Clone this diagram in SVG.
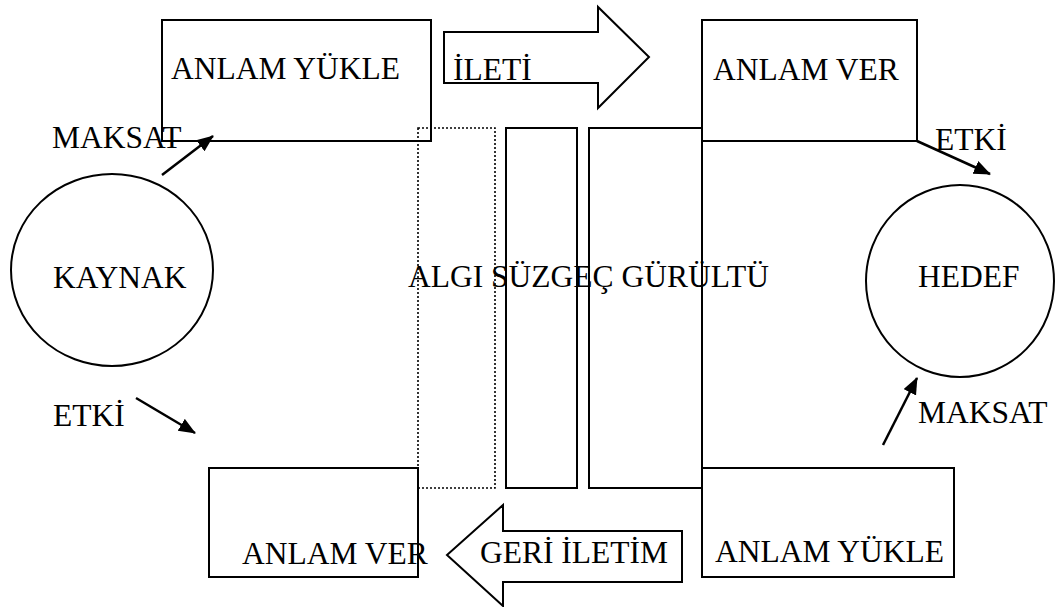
<svg xmlns="http://www.w3.org/2000/svg" width="1058" height="607" viewBox="0 0 1058 607">
<style>
.t{font-family:"Liberation Serif","Times New Roman",serif;font-size:31.5px;fill:#000}
.s{fill:#fff;stroke:#000;stroke-width:2}
.d{fill:none;stroke:#000;stroke-width:1.6;stroke-dasharray:2 2}
.c{stroke:#000;stroke-width:2.5;fill:none}
</style>
<defs>
<marker id="ah" markerUnits="userSpaceOnUse" markerWidth="18" markerHeight="16" refX="16" refY="7" orient="auto">
<path d="M0,0 L17,7 L0,14 Z" fill="#000"/>
</marker>
</defs>
<g id="box-anlam-yukle-top">
<rect class="s" x="162" y="20" width="269" height="121"/>
<text class="t" x="171" y="79">ANLAM YÜKLE</text>
</g>
<g id="ileti">
<polygon class="s" points="444,32 598,32 598,7 649,57 598,108 598,83 444,83"/>
<text class="t" x="453" y="80">İLETİ</text>
</g>
<g id="box-anlam-ver-top">
<rect class="s" x="702" y="20" width="215" height="121"/>
<text class="t" x="713" y="80">ANLAM VER</text>
</g>
<g id="filters">
<rect class="d" x="418" y="128" width="77" height="360"/>
<rect class="s" x="506" y="128" width="71" height="360"/>
<rect class="s" x="589" y="128" width="113" height="360"/>
<text class="t" x="408" y="287">ALGI SÜZGEÇ GÜRÜLTÜ</text>
</g>
<g id="kaynak">
<ellipse class="s" cx="112" cy="270" rx="101" ry="96"/>
<text class="t" x="53" y="288">KAYNAK</text>
</g>
<g id="hedef">
<ellipse class="s" cx="960" cy="281" rx="94" ry="96"/>
<text class="t" x="918" y="287">HEDEF</text>
</g>
<g id="box-anlam-ver-bottom">
<rect class="s" x="209" y="468" width="209" height="109"/>
<text class="t" x="242" y="564">ANLAM VER</text>
</g>
<g id="geri-iletim">
<polygon class="s" points="682,531 503,531 503,505 447,555 503,606 503,582 682,582"/>
<text class="t" x="480" y="563">GERİ İLETİM</text>
</g>
<g id="box-anlam-yukle-bottom">
<rect class="s" x="702" y="468" width="252" height="109"/>
<text class="t" x="715" y="562">ANLAM YÜKLE</text>
</g>
<g id="labels">
<text class="t" x="52" y="148">MAKSAT</text>
<text class="t" x="935" y="150">ETKİ</text>
<text class="t" x="53" y="426">ETKİ</text>
<text class="t" x="918" y="423">MAKSAT</text>
</g>
<g id="connectors">
<line class="c" x1="162" y1="175" x2="213" y2="136" marker-end="url(#ah)"/>
<line class="c" x1="917" y1="141" x2="990" y2="174" marker-end="url(#ah)"/>
<line class="c" x1="136" y1="398" x2="195" y2="433" marker-end="url(#ah)"/>
<line class="c" x1="883" y1="445" x2="917" y2="378" marker-end="url(#ah)"/>
</g>
</svg>
